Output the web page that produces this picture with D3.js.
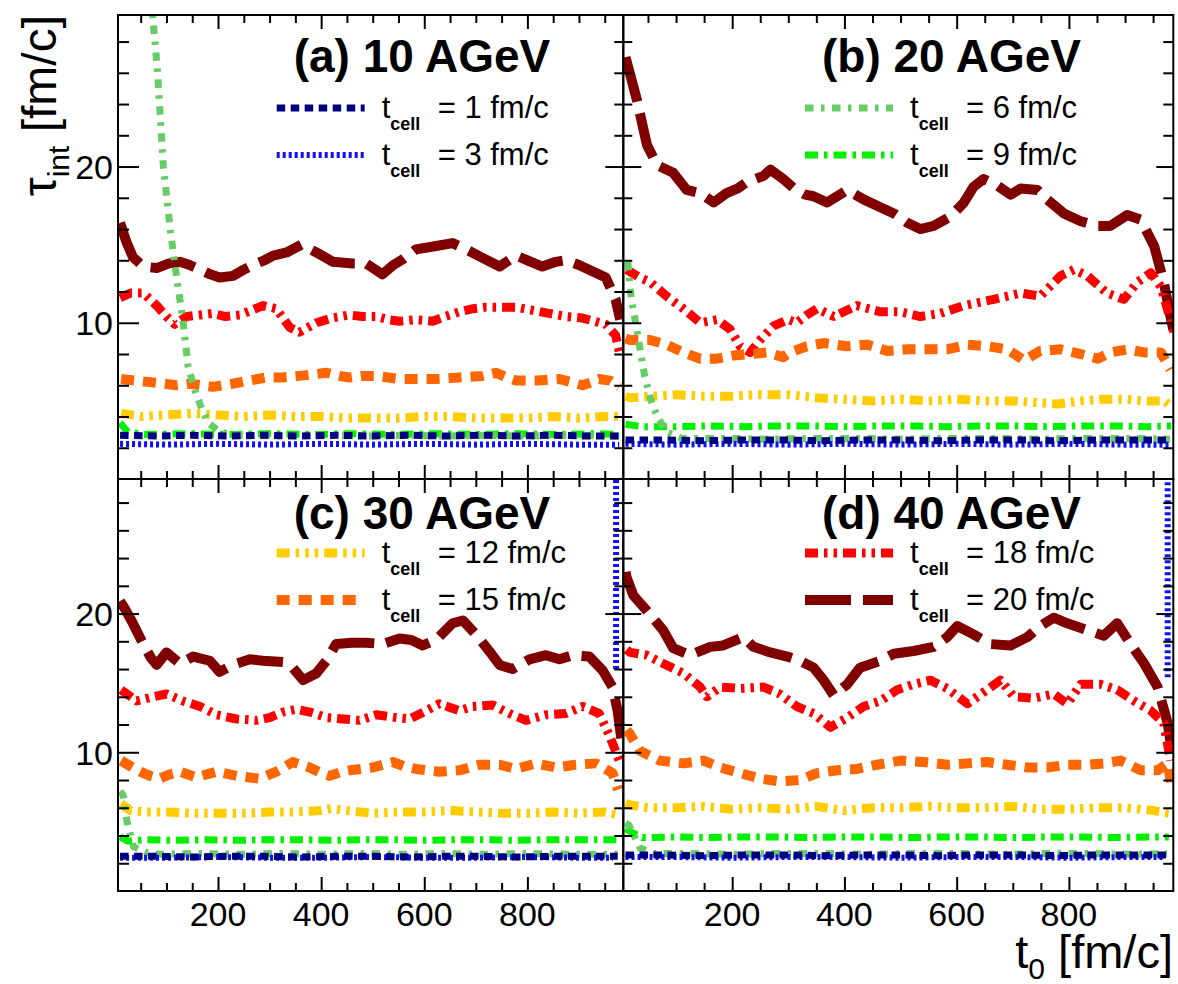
<!DOCTYPE html>
<html>
<head>
<meta charset="utf-8">
<script src="https://cdn.jsdelivr.net/npm/d3@7"></script>
<style>
  body { margin: 0; background: #fff; }
  svg text { font-family: "Liberation Sans", Arial, sans-serif; fill: #000; }
</style>
</head>
<body>
<svg id="chart" width="1178" height="984"></svg>
<script>
// ---- series definitions (t_cell in fm/c) ----
const tcell = [1, 3, 6, 9, 12, 15, 18, 20];
const lineColors = ['#000080', '#1010ff', '#66cc66', '#00f000', '#ffcc00', '#ff6600', '#ff0000', '#800000'];
const panelTitles = ['(a) 10 AGeV', '(b) 20 AGeV', '(c) 30 AGeV', '(d) 40 AGeV'];
const xMajor = [200, 400, 600, 800];
const yMajor = [10, 20];

// ---- (a) 10 AGeV : [t0, tau_int] ----
const a_t1 = [[10,2.8],[80,2.75],[150,2.8],[220,2.75],[290,2.8],[360,2.75],[430,2.8],[500,2.75],[570,2.8],[640,2.75],[710,2.8],[780,2.75],[850,2.8],[920,2.75],[980,2.75]];
const a_t3 = [[10,2.25],[100,2.2],[200,2.25],[300,2.2],[400,2.25],[500,2.2],[600,2.25],[700,2.2],[800,2.25],[900,2.2],[978,2.2]];
const a_t6 = [[40,48],[73,29.7],[82,26.4],[94,20.0],[108,15.8],[121,12.6],[131,10.4],[142,7.2],[155,5.7],[166,4.7],[181,3.6],[204,3.0],[240,2.8],[320,2.75],[400,2.8],[480,2.75],[560,2.8],[640,2.75],[720,2.8],[800,2.75],[880,2.8],[978,2.75]];
const a_t9 = [[10,3.6],[25,3.0],[60,2.85],[140,2.9],[220,2.85],[300,2.9],[380,2.85],[460,2.9],[540,2.85],[620,2.9],[700,2.85],[780,2.9],[860,2.85],[940,2.9],[978,2.85]];
const a_t12 = [[12,4.2],[50,4.0],[100,4.1],[150,4.2],[200,4.1],[250,4.0],[300,4.1],[350,4.0],[400,4.0],[450,3.9],[500,3.9],[550,3.9],[600,4.0],[650,4.0],[700,3.9],[750,3.9],[800,3.9],[850,4.0],[900,3.9],[950,4.0],[978,4.0]];
const a_t15 = [[12,6.4],[40,6.3],[68,6.2],[95,6.1],[120,6.0],[145,6.1],[168,6.0],[190,5.9],[210,6.0],[229,6.1],[260,6.3],[294,6.5],[325,6.5],[358,6.6],[385,6.7],[410,6.8],[435,6.6],[455,6.5],[480,6.6],[507,6.6],[530,6.5],[552,6.4],[584,6.4],[620,6.4],[668,6.5],[713,6.6],[739,6.8],[760,6.5],[778,6.3],[820,6.3],[862,6.4],[885,6.2],[907,6.0],[925,6.2],[939,6.4],[960,6.3],[978,5.9]];
const a_t18 = [[10,11.6],[30,11.9],[55,11.9],[81,11.1],[100,10.4],[116,9.9],[139,10.4],[165,10.5],[190,10.6],[215,10.4],[242,10.5],[265,10.8],[287,11.1],[313,10.9],[339,9.7],[358,9.4],[391,10.0],[420,10.3],[455,10.5],[480,10.4],[507,10.4],[530,10.2],[552,10.1],[584,10.2],[616,10.1],[640,10.4],[668,10.7],[695,10.9],[720,11.0],[750,11.0],[778,11.0],[810,10.8],[842,10.6],[875,10.4],[907,10.3],[930,10.1],[952,9.9],[971,9.2],[980,7.9]];
const a_t20 = [[10,16.4],[22,15.2],[35,14.2],[55,13.6],[81,13.5],[105,13.8],[126,13.9],[145,13.7],[165,13.4],[185,13.1],[203,12.9],[229,13.0],[250,13.4],[268,13.7],[290,14.0],[307,14.3],[333,14.5],[362,15.0],[391,14.5],[423,13.9],[461,13.8],[487,13.8],[519,13.1],[540,13.7],[560,14.1],[584,14.7],[620,14.9],[655,15.1],[681,14.7],[710,14.2],[746,13.6],[778,14.3],[800,14.0],[829,13.6],[855,13.9],[875,14.0],[900,13.7],[926,13.3],[952,12.9],[971,11.5],[980,10.2]];

// ---- (b) 20 AGeV ----
const b_t1 = [[10,2.5],[80,2.5],[150,2.45],[220,2.5],[290,2.5],[360,2.45],[430,2.5],[500,2.5],[570,2.45],[640,2.5],[710,2.5],[780,2.45],[850,2.5],[920,2.5],[980,2.5]];
const b_t3 = [[10,2.25],[100,2.2],[200,2.25],[300,2.2],[400,2.25],[500,2.2],[600,2.25],[700,2.2],[800,2.25],[900,2.2],[980,2.2]];
const b_t6 = [[14,13.9],[20,11.6],[27,10.2],[36,8.3],[44,6.6],[57,4.8],[68,3.9],[84,3.0],[110,2.6],[180,2.6],[260,2.55],[340,2.6],[420,2.6],[500,2.55],[580,2.6],[660,2.6],[740,2.55],[820,2.6],[900,2.6],[980,2.55]];
const b_t9 = [[10,3.5],[40,3.35],[100,3.35],[160,3.4],[220,3.35],[280,3.4],[340,3.4],[400,3.35],[460,3.4],[520,3.4],[580,3.35],[640,3.4],[700,3.4],[760,3.35],[820,3.4],[880,3.4],[940,3.35],[982,3.4]];
const b_t12 = [[10,5.3],[18,5.2],[60,5.3],[100,5.4],[150,5.3],[200,5.3],[250,5.4],[300,5.4],[350,5.2],[400,5.1],[450,5.0],[500,5.1],[550,5.0],[600,5.1],[650,5.0],[700,5.0],[740,4.9],[780,4.8],[820,5.0],[860,5.1],[900,5.1],[940,5.0],[970,5.0],[985,4.6]];
const b_t15 = [[10,9.0],[18,8.9],[54,8.9],[83,8.6],[113,8.1],[143,7.7],[173,7.7],[202,7.9],[232,8.0],[262,8.1],[291,7.8],[303,8.1],[333,8.5],[363,8.7],[405,8.5],[440,8.6],[476,8.2],[512,8.3],[541,8.3],[583,8.3],[619,8.6],[654,8.5],[690,8.3],[720,7.6],[749,8.2],[785,8.3],[821,8.0],[851,7.7],[874,8.1],[904,8.3],[934,8.1],[964,8.1],[981,7.0]];
const b_t18 = [[12,13.4],[35,12.9],[54,12.6],[83,11.7],[113,10.9],[143,10.0],[173,10.2],[196,9.6],[214,8.5],[232,8.1],[250,8.9],[274,9.8],[300,10.2],[315,10.0],[333,10.5],[351,10.9],[381,10.4],[422,11.1],[464,10.7],[500,10.7],[535,10.4],[571,10.6],[613,11.1],[666,11.5],[714,11.9],[749,11.7],[785,13.0],[809,13.4],[833,13.0],[868,11.9],[898,11.5],[922,12.6],[946,13.2],[964,12.3],[981,10.2],[987,9.4]];
const b_t20 = [[10,27.0],[30,24.3],[48,21.4],[66,20.1],[95,19.6],[119,18.5],[143,18.3],[167,17.7],[190,18.3],[210,18.6],[226,19.0],[256,19.4],[268,19.8],[291,19.2],[310,18.6],[330,18.2],[345,18.1],[369,17.7],[387,18.1],[405,18.5],[434,17.9],[464,17.4],[488,17.0],[512,16.4],[535,16.0],[559,16.2],[589,16.8],[613,17.7],[630,18.7],[648,19.2],[672,18.8],[696,18.2],[714,18.6],[744,18.5],[761,17.9],[791,17.0],[821,16.5],[851,16.2],[874,16.2],[904,16.9],[928,16.6],[952,14.9],[969,12.6],[981,10.4],[987,9.4]];

// ---- (c) 30 AGeV ----
const c_t1 = [[10,2.5],[80,2.5],[150,2.45],[220,2.5],[290,2.5],[360,2.45],[430,2.5],[500,2.5],[570,2.45],[640,2.5],[710,2.5],[780,2.45],[850,2.5],[920,2.5],[975,2.5]];
const c_t3 = [[10,2.4],[100,2.4],[200,2.45],[300,2.4],[400,2.4],[500,2.45],[600,2.4],[700,2.4],[800,2.45],[900,2.4],[966,2.4],null,[972,16.0],[972,40]];
const c_t6 = [[10,7.2],[16,6.9],[23,5.1],[36,3.2],[60,2.8],[87,2.65],[160,2.7],[240,2.65],[320,2.7],[400,2.65],[480,2.7],[560,2.65],[640,2.7],[720,2.65],[800,2.7],[880,2.65],[975,2.65]];
const c_t9 = [[10,3.9],[25,3.6],[60,3.7],[120,3.65],[180,3.7],[240,3.65],[300,3.7],[360,3.7],[420,3.65],[480,3.7],[540,3.7],[600,3.65],[660,3.7],[720,3.7],[780,3.65],[840,3.7],[900,3.7],[976,3.7]];
const c_t12 = [[12,6.3],[30,5.8],[60,5.7],[100,5.7],[150,5.6],[200,5.6],[250,5.6],[300,5.7],[350,5.7],[400,5.8],[420,5.95],[450,5.8],[500,5.6],[550,5.7],[600,5.7],[650,5.8],[700,5.7],[750,5.6],[800,5.6],[850,5.7],[900,5.6],[950,5.7],[976,5.5]];
const c_t15 = [[12,9.4],[30,9.0],[49,8.6],[68,8.3],[87,8.1],[106,8.4],[126,8.6],[158,8.2],[197,8.6],[236,8.3],[281,8.1],[313,8.6],[345,9.3],[378,8.9],[400,8.5],[417,8.3],[440,8.6],[455,8.7],[500,8.9],[539,9.3],[560,9.0],[584,8.8],[629,8.6],[668,8.7],[707,9.1],[746,9.1],[778,8.8],[817,9.2],[855,8.9],[894,9.1],[933,9.2],[965,8.5],[976,7.3]];
const c_t18 = [[12,14.5],[42,13.7],[74,14.0],[100,14.2],[132,13.7],[165,13.3],[197,12.7],[236,12.4],[274,12.3],[300,12.5],[326,12.9],[352,13.1],[378,12.9],[410,12.5],[442,12.4],[474,12.3],[507,12.7],[546,12.5],[572,12.4],[604,13.0],[629,13.5],[668,13.0],[694,13.3],[733,13.4],[765,12.8],[797,12.3],[836,12.7],[875,12.8],[907,13.3],[939,12.8],[958,11.3],[971,10.1],[980,9.2]];
const c_t20 = [[10,20.9],[20,20.3],[32,19.5],[55,17.8],[70,16.8],[81,16.3],[100,17.2],[126,16.4],[152,16.9],[184,16.6],[203,15.8],[229,16.3],[262,16.7],[287,16.6],[326,16.5],[345,16.1],[365,15.2],[391,15.7],[410,16.6],[429,17.8],[460,17.9],[487,17.9],[520,17.8],[552,18.2],[575,18.1],[597,17.7],[623,18.1],[655,19.3],[675,19.5],[700,18.5],[726,17.3],[746,16.3],[771,16.0],[804,16.7],[836,17.0],[862,16.7],[888,17.0],[920,16.9],[946,15.9],[965,14.7],[975,13.0],[982,11.0]];

// ---- (d) 40 AGeV ----
const d_t1 = [[10,2.6],[80,2.6],[150,2.55],[220,2.6],[290,2.6],[360,2.55],[430,2.6],[500,2.6],[570,2.55],[640,2.6],[710,2.6],[780,2.55],[850,2.6],[920,2.6],[975,2.6]];
const d_t3 = [[10,2.45],[100,2.45],[200,2.4],[300,2.45],[400,2.45],[500,2.4],[600,2.45],[700,2.45],[800,2.4],[900,2.45],[970,2.45],null,[976,15.4],[976,40]];
const d_t6 = [[10,4.9],[16,4.75],[36,3.1],[60,2.7],[120,2.7],[200,2.65],[280,2.7],[360,2.7],[440,2.65],[520,2.7],[600,2.7],[680,2.65],[760,2.7],[840,2.7],[920,2.65],[975,2.7]];
const d_t9 = [[10,4.5],[18,4.3],[40,3.85],[100,3.9],[160,3.85],[220,3.9],[280,3.9],[340,3.85],[400,3.9],[460,3.9],[520,3.85],[580,3.9],[640,3.9],[700,3.85],[760,3.9],[820,3.9],[880,3.85],[940,3.9],[978,3.9]];
const d_t12 = [[10,6.3],[18,6.2],[50,6.0],[100,6.0],[150,6.1],[200,5.9],[250,6.0],[300,5.9],[350,6.1],[400,5.8],[450,6.0],[500,6.0],[550,6.1],[600,6.0],[650,6.0],[700,6.1],[750,5.9],[800,5.9],[850,6.0],[900,6.0],[950,5.8],[980,5.6]];
const d_t15 = [[12,11.6],[18,11.3],[36,10.1],[71,9.4],[113,9.2],[149,9.4],[179,8.9],[214,8.5],[250,8.1],[285,7.9],[321,8.0],[351,8.5],[387,8.7],[422,8.8],[458,9.1],[500,9.4],[541,9.3],[583,9.1],[619,9.2],[654,9.3],[690,9.1],[726,8.9],[761,8.9],[797,9.1],[833,9.1],[862,9.2],[892,9.4],[928,8.7],[958,8.7],[976,9.2],[982,7.8]];
const d_t18 = [[12,17.4],[18,17.2],[48,17.0],[77,16.4],[113,15.7],[143,14.7],[155,14.0],[179,14.7],[214,14.6],[256,14.7],[285,14.2],[315,13.3],[345,12.8],[375,11.8],[405,12.5],[434,13.3],[464,13.7],[494,14.5],[523,14.9],[553,15.2],[583,14.6],[619,13.5],[654,14.5],[678,15.2],[702,14.0],[738,13.9],[773,14.2],[797,13.5],[821,14.9],[856,14.9],[886,14.5],[916,13.7],[946,13.0],[969,12.1],[981,9.4]];
const d_t20 = [[10,23.0],[12,22.6],[24,21.3],[48,20.2],[77,18.8],[95,17.5],[125,17.0],[161,17.6],[184,17.7],[220,18.3],[238,17.6],[268,17.2],[298,16.9],[321,16.6],[345,16.1],[363,15.2],[381,14.1],[405,14.9],[428,16.1],[464,16.6],[488,17.1],[523,17.3],[559,17.6],[583,18.3],[601,19.1],[630,18.5],[660,17.8],[696,17.7],[726,18.3],[749,19.1],[773,19.7],[797,19.3],[833,18.8],[862,18.4],[886,19.3],[910,17.8],[934,16.4],[958,14.7],[976,12.1],[984,9.9]];

const panelSeries = [
  [a_t1, a_t3, a_t6, a_t9, a_t12, a_t15, a_t18, a_t20],
  [b_t1, b_t3, b_t6, b_t9, b_t12, b_t15, b_t18, b_t20],
  [c_t1, c_t3, c_t6, c_t9, c_t12, c_t15, c_t18, c_t20],
  [d_t1, d_t3, d_t6, d_t9, d_t12, d_t15, d_t18, d_t20]
];

// ---- styling (ROOT-like line styles) ----
const dashes = ['8.5,5.5', '3,3', '8.5,7.5,3.5,7.5', '13,6,3.5,6', '13,6,3.5,6,3.5,6,3.5,6', '13,9', '13,6,3.5,6,3.5,6', '46,12'];
const widths = [7, 6, 7, 7, 9, 10, 9, 10];

const svg = d3.select('#chart');
const xDomain = [6, 986], yDomain = [0, 29.7];
const cols = [[118, 623.3], [623.3, 1173.3]];
const rows = [[15, 479], [479, 891]];

panelSeries.forEach((series, p) => {
  let col = p % 2, row = Math.floor(p / 2);
  let [x0, x1] = cols[col], [y0, y1] = rows[row];

  let x = d3.scaleLinear().domain(xDomain).range([x0, x1]);
  let y = d3.scaleLinear().domain(yDomain).range([y1, y0]);

  let g = svg.append('g');

  g.append('clipPath').attr('id', 'clip' + p)
    .append('rect').attr('x', x0).attr('y', y0).attr('width', x1 - x0).attr('height', y1 - y0);

  let line = d3.line()
      .defined(d => d !== null)
      .x(d => x(d[0]))
      .y(d => y(d[1]));

  // drawn from t_cell = 20 down to 1
  let order = d3.range(series.length).reverse();
  g.append('g').attr('clip-path', `url(#clip${p})`)
    .selectAll('path')
    .data(order)
    .enter().append('path')
      .attr('d', i => line(series[i]))
      .attr('fill', 'none')
      .attr('stroke', i => lineColors[i])
      .attr('stroke-width', i => widths[i])
      .attr('stroke-dasharray', i => dashes[i])
      .attr('stroke-linejoin', 'round');

  // frame
  g.append('rect')
      .attr('x', x0).attr('y', y0).attr('width', x1 - x0).attr('height', y1 - y0)
      .attr('fill', 'none').attr('stroke', '#000').attr('stroke-width', 2);

  let xMinor = d3.range(50, 1000, 50).filter(v => !xMajor.includes(v));
  let yMinor = d3.range(2, 30, 2).filter(v => !yMajor.includes(v));

  let tickGroup = (axis, tx, ty) => g.append('g')
      .attr('transform', `translate(${tx},${ty})`)
      .call(axis)
      .call(s => s.select('.domain').remove())
      .call(s => s.selectAll('line').attr('stroke-width', 2));

  let leftLen = col === 0 ? [21, 11] : [18, 9];
  let rightLen = col === 0 ? [18, 9] : [17, 10];

  tickGroup(d3.axisLeft(y).tickValues(yMajor).tickSize(-leftLen[0]).tickFormat(''), x0, 0);
  tickGroup(d3.axisLeft(y).tickValues(yMinor).tickSize(-leftLen[1]).tickFormat(''), x0, 0);
  tickGroup(d3.axisRight(y).tickValues(yMajor).tickSize(-rightLen[0]).tickFormat(''), x1, 0);
  tickGroup(d3.axisRight(y).tickValues(yMinor).tickSize(-rightLen[1]).tickFormat(''), x1, 0);
  tickGroup(d3.axisTop(x).tickValues(xMajor).tickSize(-14).tickFormat(''), 0, y0);
  tickGroup(d3.axisTop(x).tickValues(xMinor).tickSize(-8).tickFormat(''), 0, y0);
  tickGroup(d3.axisBottom(x).tickValues(xMajor).tickSize(-14).tickFormat(''), 0, y1);
  tickGroup(d3.axisBottom(x).tickValues(xMinor).tickSize(-8).tickFormat(''), 0, y1);

  // tick labels
  if (col === 0) {
    g.selectAll('text.ylab').data(yMajor).enter().append('text')
        .attr('x', x0 - 5).attr('y', d => y(d)).attr('dy', '0.36em')
        .attr('text-anchor', 'end').attr('font-size', 34)
        .text(d => d);
  }
  if (row === 1) {
    g.selectAll('text.xlab').data(xMajor).enter().append('text')
        .attr('x', d => x(d)).attr('y', 926)
        .attr('text-anchor', 'middle').attr('font-size', 34)
        .text(d => d);
  }

  // panel title
  let lx = col === 0 ? 276.7 : 805;
  let ly = row === 0 ? [108, 155] : [553, 600];
  g.append('text')
      .attr('x', lx + 17).attr('y', row === 0 ? 72 : 529)
      .attr('font-size', 46).attr('font-weight', 'bold')
      .text(panelTitles[p]);

  // legend: two entries per panel
  [2 * p, 2 * p + 1].forEach((i, k) => {
    let yy = ly[k];
    g.append('line')
        .attr('x1', lx).attr('x2', lx + 88).attr('y1', yy).attr('y2', yy)
        .attr('stroke', lineColors[i]).attr('stroke-width', widths[i])
        .attr('stroke-dasharray', dashes[i]);
    let t = g.append('text')
        .attr('x', lx + 105).attr('y', yy + 9.5)
        .attr('font-family', '"DejaVu Sans", sans-serif').attr('font-size', 31);
    t.append('tspan').text('t');
    t.append('tspan').attr('font-size', 18).attr('font-weight', 'bold').attr('dy', 12.5).text('cell');
    t.append('tspan').attr('x', lx + 161).attr('dy', -12.5).text(`= ${tcell[i]} fm/c`);
  });
});

// axis titles
let ytitle = svg.append('text')
    .attr('transform', 'translate(56,15) rotate(-90)')
    .attr('text-anchor', 'end').attr('font-size', 48);
ytitle.append('tspan').text('τ');
ytitle.append('tspan').attr('font-size', 30).attr('dy', 13).text('int');
ytitle.append('tspan').attr('dy', -13).text(' [fm/c]');

let xtitle = svg.append('text')
    .attr('x', 1173).attr('y', 968)
    .attr('text-anchor', 'end').attr('font-size', 47);
xtitle.append('tspan').text('t');
xtitle.append('tspan').attr('font-size', 30).attr('dy', 11).text('0');
xtitle.append('tspan').attr('dy', -11).text(' [fm/c]');
</script>
</body>
</html>
